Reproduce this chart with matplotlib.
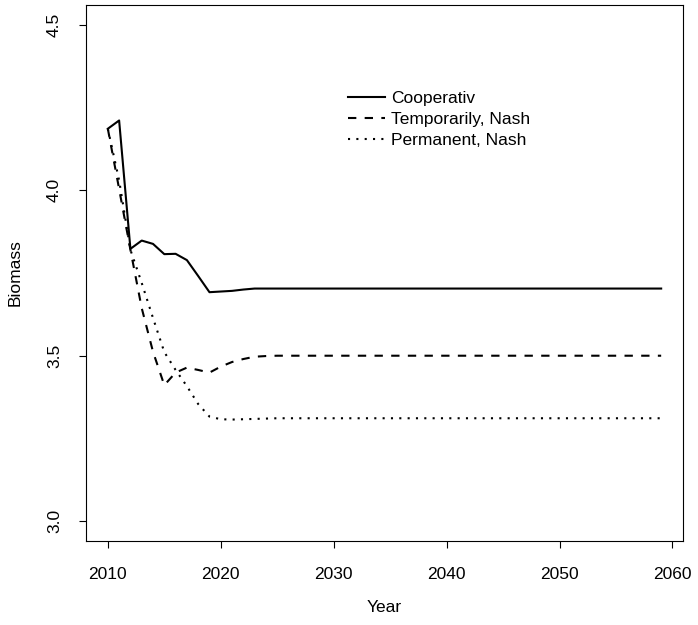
import numpy as np
import matplotlib.pyplot as plt

plt.rcParams['font.family'] = ['Liberation Sans', 'DejaVu Sans']

years = np.arange(2010, 2060)

cooperativ = [4.186, 4.211, 3.823, 3.848, 3.838, 3.807, 3.808, 3.789, 3.741, 3.692,
              3.694, 3.696, 3.700, 3.703, 3.703, 3.703, 3.703, 3.703, 3.703, 3.703,
              3.703, 3.703, 3.703, 3.703, 3.703, 3.703, 3.703, 3.703, 3.703, 3.703,
              3.703, 3.703, 3.703, 3.703, 3.703, 3.703, 3.703, 3.703, 3.703, 3.703,
              3.703, 3.703, 3.703, 3.703, 3.703, 3.703, 3.703, 3.703, 3.703, 3.703]

temp_nash = [4.186, 4.004, 3.820, 3.644, 3.512, 3.411, 3.449, 3.464, 3.457, 3.449,
             3.467, 3.481, 3.490, 3.497, 3.499, 3.500, 3.500, 3.500, 3.500, 3.500,
             3.500, 3.500, 3.500, 3.500, 3.500, 3.500, 3.500, 3.500, 3.500, 3.500,
             3.500, 3.500, 3.500, 3.500, 3.500, 3.500, 3.500, 3.500, 3.500, 3.500,
             3.500, 3.500, 3.500, 3.500, 3.500, 3.500, 3.500, 3.500, 3.500, 3.500]

perm_nash = [4.186, 4.030, 3.820, 3.720, 3.614, 3.511, 3.457, 3.408, 3.354, 3.316,
             3.308, 3.307, 3.308, 3.309, 3.310, 3.311, 3.311, 3.311, 3.311, 3.311,
             3.311, 3.311, 3.311, 3.311, 3.311, 3.311, 3.311, 3.311, 3.311, 3.311,
             3.311, 3.311, 3.311, 3.311, 3.311, 3.311, 3.311, 3.311, 3.311, 3.311,
             3.311, 3.311, 3.311, 3.311, 3.311, 3.311, 3.311, 3.311, 3.311, 3.311]

labels = ["Cooperativ", "Temporarily, Nash", "Permanent, Nash"]

fs = 12.5

fig = plt.figure(figsize=(6.98, 6.25), dpi=100)
ax = fig.add_axes([85.7/698, 1-541/625, (683.3-85.7)/698, (541-5)/625])

lw = 1.5
ax.plot(years, cooperativ, color="black", lw=lw, label=labels[0])
ax.plot(years, temp_nash, color="black", lw=lw, linestyle=(0, (4, 4)),
        dash_capstyle="butt", label=labels[1])
ax.plot(years, perm_nash, color="black", lw=lw, linestyle=(0, (1, 3)),
        dash_capstyle="butt", label=labels[2])

ax.set_xlim(2008.04, 2060.96)
ax.set_ylim(2.94, 4.56)
ax.set_xticks([2010, 2020, 2030, 2040, 2050, 2060])
ax.set_yticks([3.0, 3.5, 4.0, 4.5])
ax.set_yticklabels(["3.0", "3.5", "4.0", "4.5"], rotation=90, va="center")
ax.tick_params(length=5, width=0.8, labelsize=fs, pad=12)
ax.tick_params(axis="x", pad=14)
for s in ax.spines.values():
    s.set_linewidth(0.8)

ax.set_xlabel("Year", fontsize=fs, labelpad=13)
ax.set_ylabel("Biomass", fontsize=fs, labelpad=17.5)

ax.legend(loc="upper left", bbox_to_anchor=(0.439, 0.84), frameon=False,
          fontsize=fs, handlelength=2.1, handletextpad=0.4, labelspacing=0.34,
          borderpad=0, borderaxespad=0)

fig.savefig("out.png", dpi=100)
